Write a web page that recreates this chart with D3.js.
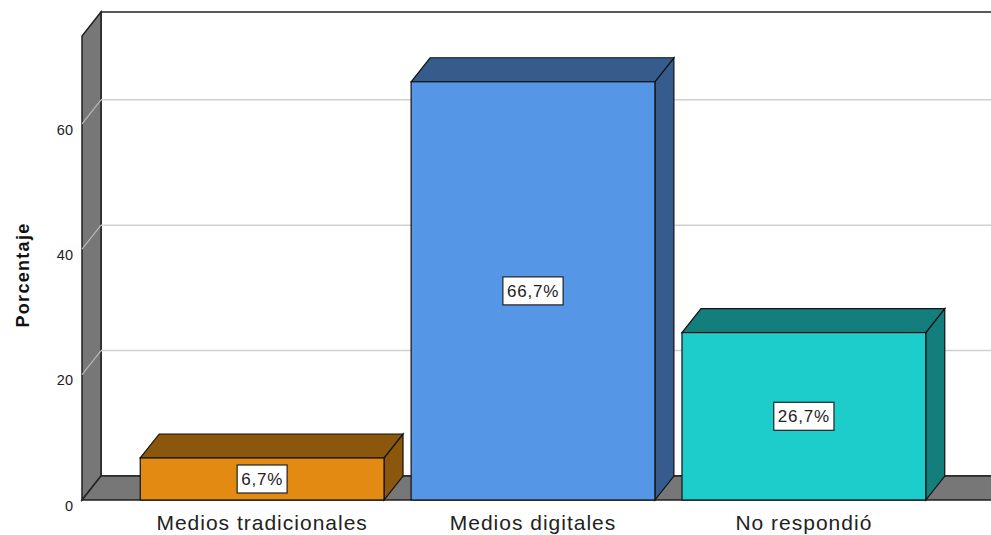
<!DOCTYPE html>
<html><head><meta charset="utf-8">
<script src="https://cdn.jsdelivr.net/npm/d3@7"></script>
<style>body{margin:0;background:#fff}svg{display:block}</style>
</head><body>
<svg id="c" width="991" height="535"></svg>
<script>
const categories = ["Medios tradicionales", "Medios digitales", "No respondió"];
const values = [6.7, 66.7, 26.7];
const valueLabels = ["6,7%", "66,7%", "26,7%"];
const frontColors = ["#E28A12", "#5596E6", "#1DCDCC"];
const darkColors = ["#8B570D", "#355C8D", "#137E7B"];
const yTicks = [0, 20, 40, 60];
const yTitle = "Porcentaje";

const svg = d3.select("#c");
const DX = 19, DY = 24;
const y = d3.scaleLinear().domain([0, 74]).range([500, 36]);
const x = d3.scaleBand().domain(categories).range([82, 984]).paddingInner(0.1).paddingOuter(0.215);
const wallGray = "#777777";
const xR = 1040;

// back wall
svg.append("path").attr("d", `M${82+DX},${y(74)-DY} L${xR},${y(74)-DY} L${xR},${y(0)-DY} L${82+DX},${y(0)-DY} Z`)
  .attr("fill", "#fff").attr("stroke", "#222").attr("stroke-width", 1.5);
// left wall
svg.append("path").attr("d", `M82,${y(0)} L82,${y(74)} L${82+DX},${y(74)-DY} L${82+DX},${y(0)-DY} Z`)
  .attr("fill", wallGray).attr("stroke", "#222").attr("stroke-width", 1.5);
// floor
svg.append("path").attr("d", `M82,${y(0)} L${82+DX},${y(0)-DY} L${xR},${y(0)-DY} L${xR-DX},${y(0)} Z`)
  .attr("fill", wallGray).attr("stroke", "#222").attr("stroke-width", 1.5);
// grid lines
yTicks.filter(d => d > 0).forEach(v => {
  svg.append("line").attr("x1", 82+DX).attr("x2", xR).attr("y1", y(v)-DY).attr("y2", y(v)-DY)
    .attr("stroke", "#d0d0d0").attr("stroke-width", 1.5);
  svg.append("line").attr("x1", 82).attr("x2", 82+DX).attr("y1", y(v)).attr("y2", y(v)-DY)
    .attr("stroke", "#b8b8b8").attr("stroke-width", 1.2);
});

// y axis labels
const ax = svg.append("g").attr("transform", "translate(77,0)")
  .call(d3.axisLeft(y).tickValues(yTicks).tickSize(0).tickPadding(4).tickFormat(d3.format("d")));
ax.select(".domain").remove();
ax.selectAll("text").attr("font-family", "Liberation Sans, Arial, sans-serif").attr("font-size", 14.5)
  .attr("fill", "#222").attr("dy", "0.78em").attr("y", -1);

// y title
svg.append("text").attr("transform", "translate(29,275) rotate(-90)").attr("text-anchor", "middle")
  .attr("font-family", "Liberation Sans, Arial, sans-serif").attr("font-weight", "bold").attr("font-size", 18)
  .attr("letter-spacing", 1.3).attr("fill", "#111").text(yTitle);

// bars
const g = svg.append("g");
categories.forEach((c, i) => {
  const x0 = x(c), bw = x.bandwidth(), yt = y(values[i]), yb = y(0);
  g.append("path").attr("d", `M${x0+bw},${yt} L${x0+bw+DX},${yt-DY} L${x0+bw+DX},${yb-DY} L${x0+bw},${yb} Z`)
    .attr("fill", darkColors[i]).attr("stroke", "#111").attr("stroke-width", 1.2);
  g.append("path").attr("d", `M${x0},${yt} L${x0+DX},${yt-DY} L${x0+bw+DX},${yt-DY} L${x0+bw},${yt} Z`)
    .attr("fill", darkColors[i]).attr("stroke", "#111").attr("stroke-width", 1.2);
  g.append("rect").attr("x", x0).attr("y", yt).attr("width", bw).attr("height", yb - yt)
    .attr("fill", frontColors[i]).attr("stroke", "#111").attr("stroke-width", 1.2);
  const cx = x0 + bw/2, cy = (yt + yb)/2;
  const t = g.append("text").attr("x", cx).attr("y", cy).attr("text-anchor", "middle").attr("dy", "0.36em")
    .attr("font-family", "Liberation Sans, Arial, sans-serif").attr("font-size", 17).attr("letter-spacing", 0.8)
    .attr("fill", "#222").text(valueLabels[i]);
  const bb = t.node().getBBox();
  g.insert("rect", () => t.node()).attr("x", cx - bb.width/2 - 4).attr("y", cy - 14).attr("width", bb.width + 8).attr("height", 28)
    .attr("fill", "#fff").attr("stroke", "#222").attr("stroke-width", 1.2);
});

// category labels
svg.append("g").selectAll("text").data(categories).join("text")
  .attr("x", d => x(d) + x.bandwidth()/2).attr("y", 530).attr("text-anchor", "middle")
  .attr("font-family", "Liberation Sans, Arial, sans-serif").attr("font-size", 21).attr("letter-spacing", 1)
  .attr("fill", "#222").text(d => d);
</script>
</body></html>
